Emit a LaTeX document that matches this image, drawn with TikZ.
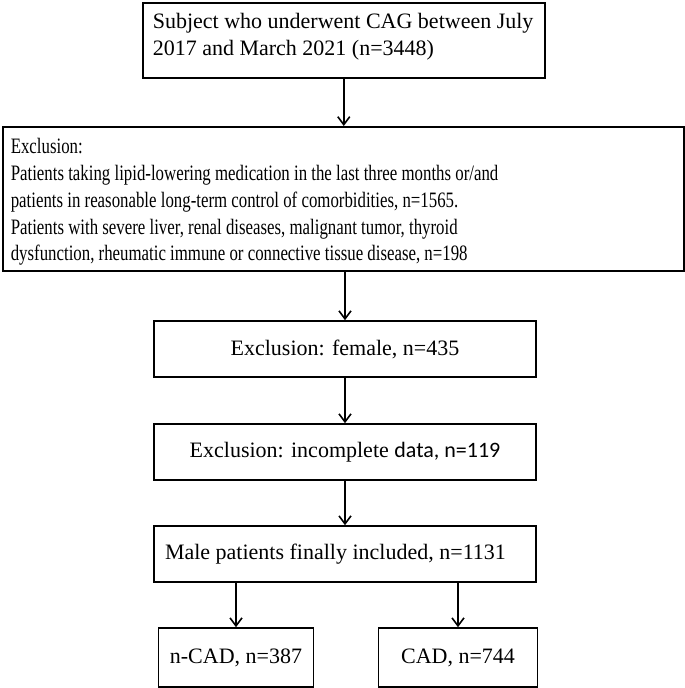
\documentclass[tikz,border=0pt]{standalone}
\usepackage{fontspec}
\setmainfont{Liberation Serif}
\newfontfamily\carlito{Carlito}
\newfontfamily\narrowserif[FakeStretch=0.765]{Liberation Serif}
\usetikzlibrary{arrows.meta}

\begin{document}
\begin{tikzpicture}[x=1pt, y=-1pt,
    box/.style={draw, line width=1.6pt, font=\fontsize{22}{26.75}\selectfont, inner sep=0pt,
      execute at begin node={\spaceskip=0pt\xspaceskip=0pt}},
    flow/.style={line width=1.6pt, -{Straight Barb[length=8pt,width=12pt]}}]
  \useasboundingbox (0,0) rectangle (685,688);
  \node[box, anchor=north west, text width=382pt, inner xsep=10pt, align=left,
        text height=26pt, text depth=49pt] (subj) at (142,2)
        {\mbox{Subject who underwent CAG between July}\\2017 and March 2021 (n=3448)};
  \node[box, anchor=north west, text width=665pt, inner xsep=8pt, align=left,
        text height=27pt, text depth=117pt] (excl) at (2,126)
        {\narrowserif Exclusion:\\Patients taking lipid-lowering medication in the last three months or/and\\patients in reasonable long-term control of comorbidities, n=1565.\\Patients with severe liver, renal diseases, malignant tumor, thyroid\\dysfunction, rheumatic immune or connective tissue disease, n=198};
  \node[box, minimum width=382pt, minimum height=56pt] (female) at (345,349) {Exclusion: female, n=435};
  \node[box, minimum width=382pt, minimum height=56pt] (data) at (345,452) {Exclusion: incomplete {\carlito data, n=119}};
  \node[box, minimum height=56pt, text width=360pt, inner xsep=11pt, align=left] (male) at (345,554) {Male patients finally included, n=1131};
  \node[box, minimum width=155pt, minimum height=59pt] (ncad) at (236,657.5) {n-CAD, n=387};
  \node[box, minimum width=159pt, minimum height=59pt] (cad) at (458,657.5) {CAD, n=744};

  \draw[flow] (subj.south) -- (subj.south |- excl.north);
  \draw[flow] (excl.south -| female.north) -- (female.north);
  \draw[flow] (female) -- (data);
  \draw[flow] (data) -- (male);
  \draw[flow] (male.south -| ncad.north) -- (ncad.north);
  \draw[flow] (male.south -| cad.north) -- (cad.north);
\end{tikzpicture}
\end{document}
